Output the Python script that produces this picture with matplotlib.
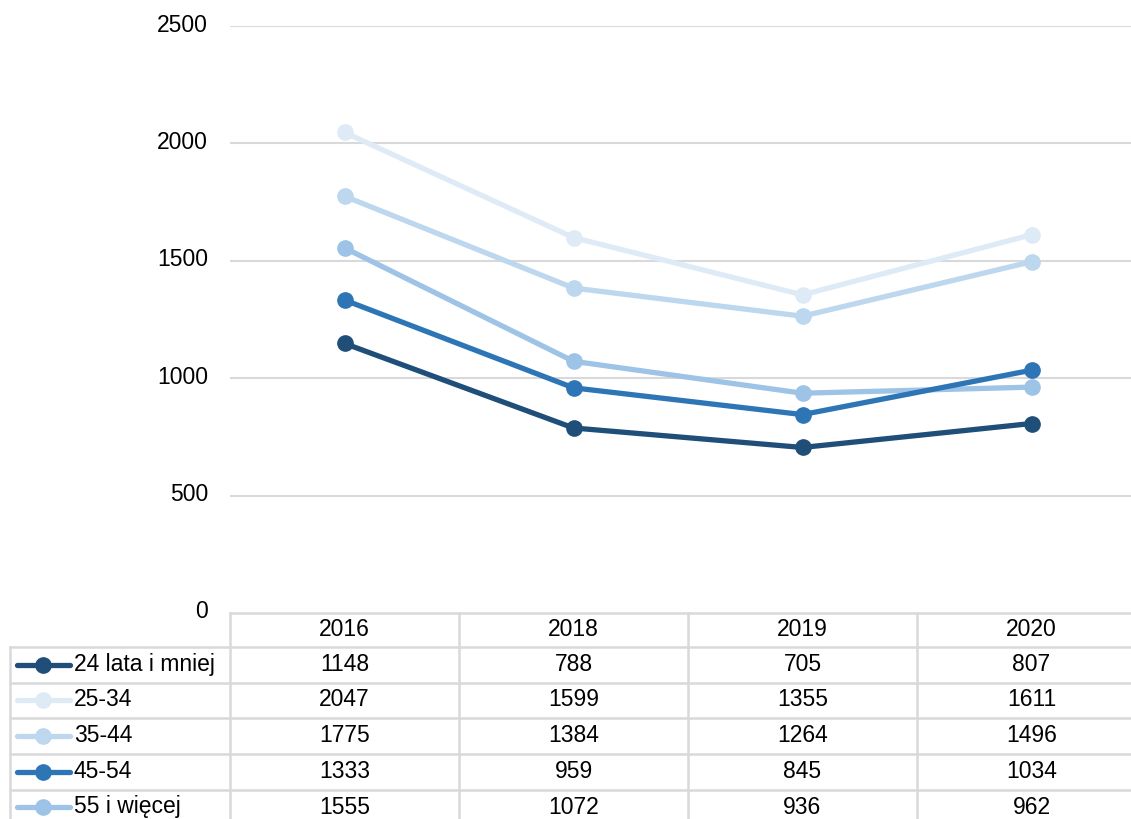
import numpy as np
import matplotlib.pyplot as plt
from matplotlib.lines import Line2D

plt.rcParams['font.family'] = ['Liberation Sans', 'DejaVu Sans']

# Datos
anos = ['2016', '2018', '2019', '2020']
grupos = ['24 lata i mniej', '25-34', '35-44', '45-54', '55 i więcej']
v_24 = [1148, 788, 705, 807]
v_25_34 = [2047, 1599, 1355, 1611]
v_35_44 = [1775, 1384, 1264, 1496]
v_45_54 = [1333, 959, 845, 1034]
v_55 = [1555, 1072, 936, 962]
valores = [v_24, v_25_34, v_35_44, v_45_54, v_55]
colores = ['#1f4e79', '#deebf7', '#bdd7ee', '#2e75b6', '#9dc3e6']
orden_dibujo = [1, 2, 4, 3, 0]

W, H = 1131, 819
fig = plt.figure(figsize=(W / 100, H / 100), dpi=100)
fs = 16.5


def fx(x):
    return x / W


def fy(y):
    return 1 - y / H


# Area del grafico
x0, x1 = 230, 1146
y_top, y_cero = 26, 613
ax = fig.add_axes([fx(x0), fy(y_cero), (x1 - x0) / W, (y_cero - y_top) / H])
x = np.arange(len(anos))
for i in orden_dibujo:
    ax.plot(x, valores[i], color=colores[i], lw=3.8, marker='o', ms=11,
            solid_capstyle='round', zorder=3)
ax.set_xlim(-0.5, len(anos) - 0.5)
ax.set_ylim(0, 2500)
for s in ax.spines.values():
    s.set_visible(False)
ax.set_xticks([])
ax.set_yticks([])
for v in [500, 1000, 1500, 2000, 2500]:
    ax.axhline(v, color='#d9d9d9', lw=1.5, zorder=1)
for v in [0, 500, 1000, 1500, 2000, 2500]:
    yy = y_cero - (y_cero - y_top) * v / 2500
    fig.text(fx(208), fy(yy - 1), str(v), ha='right', va='center', fontsize=fs, color='#000000')

# Tabla de datos
gris = '#d9d9d9'
lineas_h = [613, 647, 682.5, 718, 754, 789.5]
col_x = [230, 459, 688, 917, 1146]
for k, yy in enumerate(lineas_h):
    xa = 230 if k == 0 else 10
    fig.add_artist(Line2D([fx(xa), fx(1146)], [fy(yy), fy(yy)], color=gris, lw=1.8))
for xx in col_x:
    fig.add_artist(Line2D([fx(xx), fx(xx)], [fy(613), fy(830)], color=gris, lw=1.8))
fig.add_artist(Line2D([fx(10), fx(10)], [fy(647), fy(830)], color=gris, lw=1.8))

centros_col = [(col_x[j] + col_x[j + 1]) / 2 for j in range(len(anos))]
for j, a in enumerate(anos):
    fig.text(fx(centros_col[j]), fy(630), a, ha='center', va='center', fontsize=fs)

filas_y = [664.5, 700, 735.5, 771.5, 807]
for i, g in enumerate(grupos):
    yy = filas_y[i]
    fig.add_artist(Line2D([fx(17), fx(70)], [fy(yy), fy(yy)], color=colores[i], lw=3.8,
                          solid_capstyle='round'))
    fig.add_artist(Line2D([fx(43)], [fy(yy)], color=colores[i], marker='o', ms=11, lw=0))
    fig.text(fx(74), fy(yy), g, ha='left', va='center', fontsize=fs)
    for j in range(len(anos)):
        fig.text(fx(centros_col[j]), fy(yy), str(valores[i][j]), ha='center', va='center', fontsize=fs)

fig.savefig('out.png', dpi=100)
